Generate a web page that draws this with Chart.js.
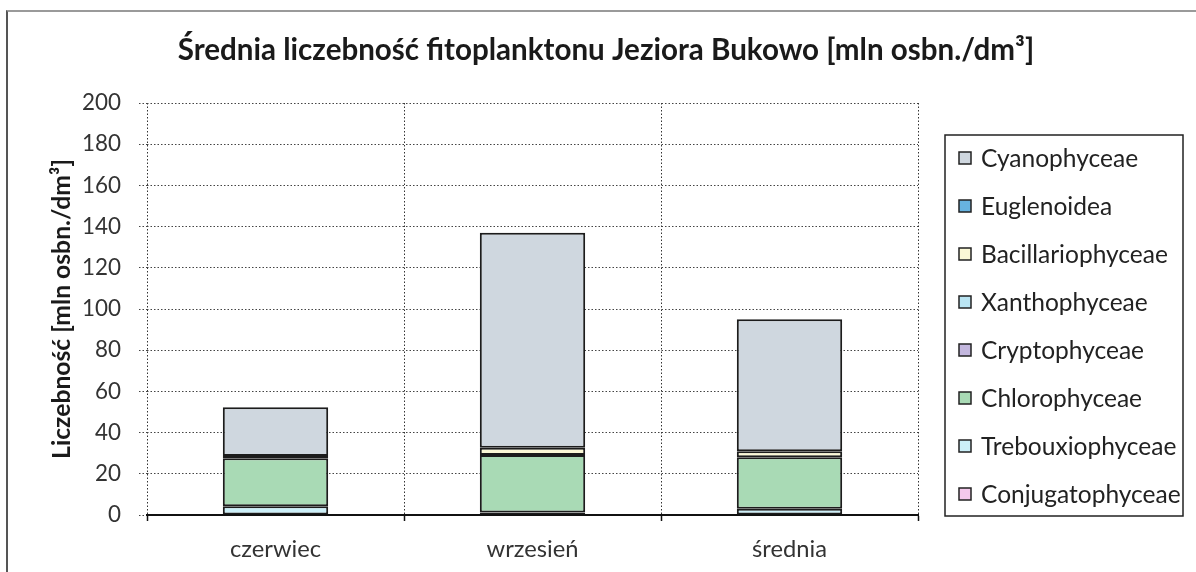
<!DOCTYPE html>
<html><head><meta charset="utf-8">
<script src="https://cdn.jsdelivr.net/npm/chart.js@4"></script>
<style>
html,body{margin:0;padding:0;background:#fff;overflow:hidden}
#wrap{position:relative;width:1196px;height:572px}
#frame{position:absolute;left:6px;top:10px;width:1200px;height:600px;border-left:2px solid #555;border-top:2px solid #9a9a9a;pointer-events:none}
canvas{position:absolute;left:0;top:0}
</style></head>
<body><div id="wrap"><canvas id="c" width="1196" height="572"></canvas><div id="frame"></div></div>
<script>
// ---- data ----
const categories = ['czerwiec', 'wrzesień', 'średnia'];
const conjugatophyceae  = [0, 0, 0];
const trebouxiophyceae  = [4.3, 1.2, 3.0];
const chlorophyceae     = [23.2, 27.9, 25.0];
const cryptophyceae     = [0, 0, 0];
const xanthophyceae     = [0, 0, 0];
const bacillariophyceae = [1.1, 3.6, 3.0];
const euglenoidea       = [0, 0, 0];
const cyanophyceae      = [23.7, 104.3, 64.0];
const yTickValues = [0, 20, 40, 60, 80, 100, 120, 140, 160, 180, 200];
const chartTitle = 'Średnia liczebność fitoplanktonu Jeziora Bukowo [mln osbn./dm³]';
const yTitle = 'Liczebność [mln osbn./dm³]';

const FAMILY = 'Lato';
const mctx = document.createElement('canvas').getContext('2d');
function fitSize(text, weight, target) {
  mctx.font = weight + ' 100px ' + FAMILY;
  return 100 * target / mctx.measureText(text).width;
}
const titleSize = fitSize(chartTitle, 'bold', 857);
const yTitleSize = fitSize(yTitle, 'bold', 300);
const tickSize = fitSize('200', 'normal', 39);
const xLabSize = fitSize('wrzesień', 'normal', 92);
const legSize = fitSize('Bacillariophyceae', 'normal', 187);

const datasets = [
  {label: 'Conjugatophyceae', data: conjugatophyceae, backgroundColor: '#f4c9ec'},
  {label: 'Trebouxiophyceae', data: trebouxiophyceae, backgroundColor: '#cbeff8'},
  {label: 'Chlorophyceae', data: chlorophyceae, backgroundColor: '#a9dab5'},
  {label: 'Cryptophyceae', data: cryptophyceae, backgroundColor: '#c3b7de'},
  {label: 'Xanthophyceae', data: xanthophyceae, backgroundColor: '#b9e4f2'},
  {label: 'Bacillariophyceae', data: bacillariophyceae, backgroundColor: '#fbf8d6'},
  {label: 'Euglenoidea', data: euglenoidea, backgroundColor: '#67b3e0'},
  {label: 'Cyanophyceae', data: cyanophyceae, backgroundColor: '#cfd7df'}
].map(d => Object.assign(d, {borderColor: '#1c1c1c', borderWidth: 2, borderSkipped: false,
  categoryPercentage: 1.0, barPercentage: 0.41}));

const decorations = {
  id: 'decorations',
  afterDraw(chart) {
    const ctx = chart.ctx;
    ctx.save();
    // main title
    ctx.font = 'bold ' + titleSize + 'px ' + FAMILY;
    ctx.fillStyle = '#1a1a1a';
    ctx.textAlign = 'center';
    ctx.textBaseline = 'middle';
    ctx.fillText(chartTitle, 606, 50);
    // boxed legend
    const L = 945, T = 135, R = 1183, B = 516;
    ctx.fillStyle = '#fff';
    ctx.fillRect(L, T, R - L, B - T);
    ctx.strokeStyle = '#222';
    ctx.lineWidth = 1.5;
    ctx.strokeRect(L, T, R - L, B - T);
    const items = chart.data.datasets.slice().reverse();
    const y0 = 158, step = 48;
    ctx.font = legSize + 'px ' + FAMILY;
    ctx.textBaseline = 'middle';
    ctx.textAlign = 'left';
    items.forEach((ds, i) => {
      const y = y0 + i * step;
      ctx.fillStyle = ds.backgroundColor;
      ctx.fillRect(959, y - 6, 12, 12);
      ctx.strokeStyle = '#222';
      ctx.lineWidth = 1.5;
      ctx.strokeRect(959, y - 6, 12, 12);
      ctx.fillStyle = '#222';
      ctx.fillText(ds.label, 981, y + 1);
    });
    ctx.restore();
  }
};

const yTitleLH = yTitleSize * 1.2;

new Chart(document.getElementById('c'), {
  type: 'bar',
  data: {labels: categories, datasets},
  plugins: [decorations],
  options: {
    responsive: false,
    animation: false,
    layout: {padding: {left: 0, right: 278, top: 103, bottom: 0}},
    font: {family: FAMILY},
    plugins: {
      legend: {display: false},
      tooltip: {enabled: false},
      title: {display: false}
    },
    scales: {
      x: {
        stacked: true,
        afterFit(s) { s.height = 57; },
        grid: {display: true, offset: true, drawOnChartArea: true, color: '#333', lineWidth: 1,
               tickLength: 6, tickColor: '#111', tickWidth: 1.5, tickBorderDash: []},
        border: {display: true, color: '#111', width: 2, dash: [1.5, 2]},
        ticks: {color: '#333', padding: 14, font: {family: FAMILY, size: xLabSize}}
      },
      y: {
        stacked: true, min: 0, max: 200,
        afterFit(s) { s.width = 147; },
        afterBuildTicks(s) { s.ticks = yTickValues.map(v => ({value: v})); },
        grid: {color: '#444', lineWidth: 1, tickLength: 8, tickColor: '#444', tickBorderDash: [1.5, 2]},
        border: {display: false, color: '#333', width: 1.5, dash: [1.5, 2]},
        ticks: {color: '#333', padding: 18, font: {family: FAMILY, size: tickSize}},
        title: {display: true, text: yTitle, color: '#1a1a1a',
                font: {family: FAMILY, size: yTitleSize, weight: 'bold', lineHeight: 1.2},
                padding: {top: 62 - yTitleLH / 2, bottom: 0}}
      }
    }
  }
});
</script>
</body></html>
